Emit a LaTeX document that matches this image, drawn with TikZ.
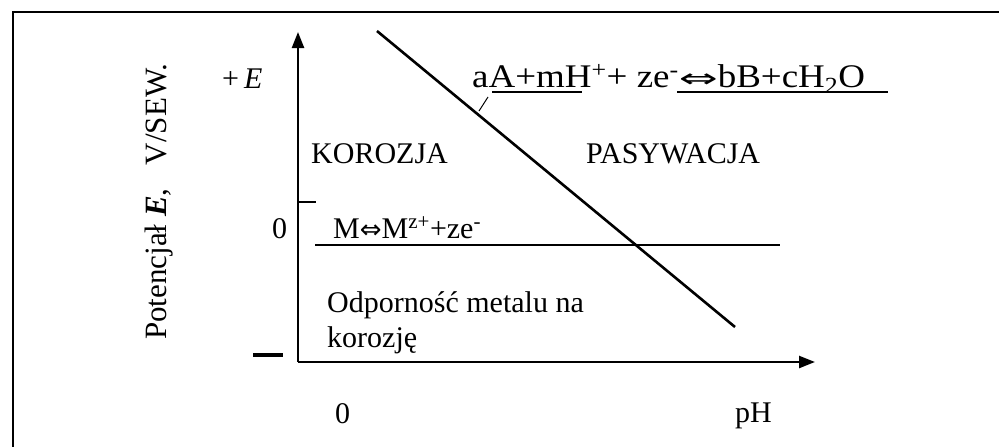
\documentclass[tikz,border=0pt]{standalone}
\usepackage{fontspec}
\usepackage{graphicx}
\setmainfont{Liberation Serif}
\newfontfamily\symfont{DejaVu Sans}
\usetikzlibrary{arrows.meta}
\newcommand{\dar}{{\symfont\fontsize{26}{30}\selectfont ⇔}}
\newcommand{\widedar}{\scalebox{1.6}[1]{\symfont\fontsize{26}{30}\selectfont ⇔}}
\begin{document}
\begin{tikzpicture}[x=1pt,y=-1pt,
  lbl/.style={anchor=base west,inner sep=0pt,font=\fontsize{30}{34}\selectfont},
  rlbl/.style={anchor=base west,inner sep=0pt,font=\fontsize{33}{36}\selectfont},
  axis/.style={line width=2.4pt,-{Triangle[length=16pt,width=12pt]}},
  curve/.style={line width=2.6pt},
  thin/.style={line width=1.3pt}]
\useasboundingbox (0,0) rectangle (999,447);
% frame (cropped)
\coordinate (fl) at (13,447);
\coordinate (ft) at (13,12);
\coordinate (fr) at (999,12);
\draw[line width=2pt] (fl) -- (ft) -- (fr);
% axes
\coordinate (O) at (298,362);
\coordinate (ytop) at (298,32);
\coordinate (xend) at (815,362);
\draw[axis] (O) -- (ytop);
\draw[axis] (O) -- (xend);
% tick on E axis
\coordinate (t1) at (298,202);
\coordinate (t2) at (316,202);
\draw[thin] (t1) -- (t2);
% minus mark
\coordinate (m1) at (253,355);
\coordinate (m2) at (283,355);
\draw[line width=3.5pt] (m1) -- (m2);
% equilibrium lines
\coordinate (h1) at (315,245);
\coordinate (h2) at (780,245);
\draw[curve] (h1) -- (h2);
\coordinate (d1) at (377,31);
\coordinate (d2) at (735,327);
\draw[curve] (d1) -- (d2);
% labels
\node[rlbl] (reac) at (472,87) {\scalebox{1.12}[1]{aA+mH\textsuperscript{+}+ ze\textsuperscript{-}\widedar bB+cH\textsubscript{2}O}};
\coordinate (u1) at (492,92);
\coordinate (u2) at (582,92);
\coordinate (u3) at (677,92);
\coordinate (u4) at (888,92);
\draw[thin] (u1) -- (u2);
\draw[thin] (u3) -- (u4);
\coordinate (lead1) at (488,97);
\coordinate (lead2) at (479,111);
\draw[line width=1pt] (lead1) -- (lead2);
\node[lbl] (pE) at (222,88) {+\,\textit{E}};
\node[lbl] (kor) at (311,163) {KOROZJA};
\node[lbl] (pas) at (586,163) {PASYWACJA};
\node[lbl] (zy) at (272,238) {0};
\node[lbl] (met) at (333,238) {M\dar M\textsuperscript{z+}+ze\textsuperscript{-}};
\node[lbl] (odp) at (327,312) {Odporność metalu na};
\node[lbl] (kz) at (327,347) {korozję};
\node[lbl] (zx) at (335,423) {0};
\node[lbl] (ph) at (735,422) {pH};
\node[lbl,rotate=90,font=\fontsize{31}{34}\selectfont] (ylab) at (166,340) {Potencjał \textbf{\textit{E}},\ \ \ V/SEW.};
\end{tikzpicture}
\end{document}
